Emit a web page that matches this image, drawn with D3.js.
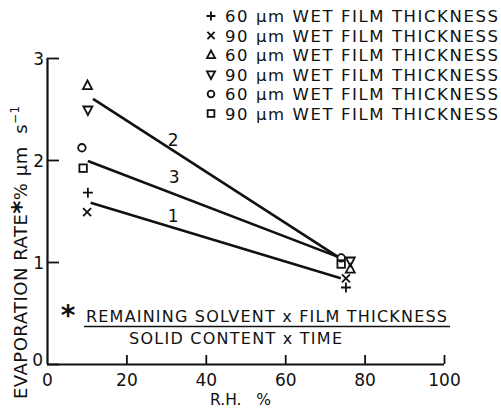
<!DOCTYPE html>
<html>
<head>
<meta charset="utf-8">
<script src="https://cdn.jsdelivr.net/npm/d3@7"></script>
<style>
  body { margin: 0; background: #fff; }
  svg text { font-family: "DejaVu Sans", sans-serif; fill: #111; }
</style>
</head>
<body>
<div id="chart"></div>
<script>
const WIDTH = 501;
const HEIGHT = 409;

// relative humidity (%) and evaporation rate (% um/s)
const seriesNames = [
  '60 μm WET FILM THICKNESS',
  '90 μm WET FILM THICKNESS',
  '60 μm WET FILM THICKNESS',
  '90 μm WET FILM THICKNESS',
  '60 μm WET FILM THICKNESS',
  '90 μm WET FILM THICKNESS',
];
const seriesSymbols = ['plus', 'cross', 'triUp', 'triDown', 'circle', 'square'];
const seriesRH = [
  [10.3, 75.3],
  [10.1, 75.3],
  [10.2, 76.4],
  [10.3, 76.4],
  [8.8, 74.1],
  [9.1, 74.1],
];
const seriesRate = [
  [1.68, 0.75],
  [1.49, 0.84],
  [2.73, 0.93],
  [2.49, 1.01],
  [2.12, 1.04],
  [1.92, 0.98],
];

// fitted lines, numbered as on the plot
const lineLabels = ['1', '2', '3'];
const lineRH = [[11.0, 74.0], [11.6, 73.3], [10.3, 73.3]];
const lineRate = [[1.58, 0.84], [2.6, 1.05], [1.99, 1.05]];

const xTicks = [0, 20, 40, 60, 80, 100];
const yTicks = [0, 1, 2, 3];

const x = d3.scaleLinear().domain([0, 100]).range([47, 444]);
const y = d3.scaleLinear().domain([0, 3]).range([364, 58]);

const svg = d3.select('#chart')
  .append('svg')
  .attr('width', WIDTH)
  .attr('height', HEIGHT);

// axes
const xAxis = d3.axisBottom(x).tickValues(xTicks).tickSize(-9).tickPadding(8).tickFormat(d3.format('d'));
const yAxis = d3.axisLeft(y).tickValues(yTicks).tickSize(-12).tickPadding(3).tickFormat(d3.format('d'));

const gx = svg.append('g').attr('transform', `translate(0,${y(0)})`).call(xAxis);
const gy = svg.append('g').attr('transform', `translate(${x(0)},0)`).call(yAxis);

[gx, gy].forEach(g => {
  g.select('.domain').attr('stroke', '#111').attr('stroke-width', 2.2);
  g.selectAll('.tick line').attr('stroke', '#111').attr('stroke-width', 1.8);
  g.selectAll('.tick text')
    .attr('font-family', '"DejaVu Sans", sans-serif')
    .attr('font-size', 17)
    .attr('fill', '#111');
});
gx.select('.domain').attr('d', `M${x(0)},0.5H${x(100)}`);
gy.select('.domain').attr('d', `M0.5,${y(0)}V${y(3)}`);
gy.selectAll('.tick text').attr('dy', '0.4em');
gy.selectAll('.tick').filter(d => d === 0).select('text').attr('x', -4).attr('dy', '0.1em');
gx.selectAll('.tick').filter(d => d === 0).select('line').remove();
gx.selectAll('.tick text').attr('dy', '0.85em');

// axis titles
svg.append('text')
  .attr('transform', `translate(27,399) rotate(-90)`)
  .attr('font-size', 18)
  .attr('letter-spacing', 0.5)
  .call(t => {
    t.append('tspan').text('EVAPORATION RATE');
    t.append('tspan').attr('font-size', 25).attr('font-weight', 'bold').attr('dy', 2).text('*');
    t.append('tspan').attr('dy', -2).attr('xml:space', 'preserve').text('% μm  s');
    t.append('tspan').attr('font-size', 12).attr('dy', -8).text('−1');
  });

svg.append('text')
  .attr('x', 210).attr('y', 405)
  .attr('font-size', 15.5)
  .attr('xml:space', 'preserve')
  .text('R.H.   %');

// fitted lines
const lineGen = d3.line().x(d => x(d[0])).y(d => y(d[1]));
lineLabels.forEach((label, i) => {
  const pts = lineRH[i].map((rh, j) => [rh, lineRate[i][j]]);
  svg.append('path')
    .attr('d', lineGen(pts))
    .attr('fill', 'none')
    .attr('stroke', '#111')
    .attr('stroke-width', 2.6);
});
const labelPos = [[31.8, 1.39], [31.8, 2.14], [32, 1.77]];
lineLabels.forEach((label, i) => {
  svg.append('text')
    .attr('x', x(labelPos[i][0]))
    .attr('y', y(labelPos[i][1]))
    .attr('font-size', 17)
    .attr('text-anchor', 'middle')
    .text(label);
});

// marker shapes
function drawSymbol(g, type, cx, cy, s) {
  const stroke = { fill: 'none', stroke: '#111', 'stroke-width': 1.8 };
  let el;
  if (type === 'plus') {
    el = g.append('path').attr('d', `M${cx - s},${cy}H${cx + s}M${cx},${cy - s}V${cy + s}`);
  } else if (type === 'cross') {
    const k = s * 0.8;
    el = g.append('path').attr('d', `M${cx - k},${cy - k}L${cx + k},${cy + k}M${cx - k},${cy + k}L${cx + k},${cy - k}`);
  } else if (type === 'triUp') {
    el = g.append('path').attr('d', `M${cx},${cy - s}L${cx + s * 0.9},${cy + s * 0.7}L${cx - s * 0.9},${cy + s * 0.7}Z`);
  } else if (type === 'triDown') {
    el = g.append('path').attr('d', `M${cx},${cy + s}L${cx + s * 0.9},${cy - s * 0.7}L${cx - s * 0.9},${cy - s * 0.7}Z`);
  } else if (type === 'circle') {
    el = g.append('circle').attr('cx', cx).attr('cy', cy).attr('r', s * 0.75);
  } else {
    el = g.append('rect').attr('x', cx - s * 0.75).attr('y', cy - s * 0.75).attr('width', s * 1.5).attr('height', s * 1.5);
  }
  Object.entries(stroke).forEach(([k, v]) => el.attr(k, v));
}

const marks = svg.append('g');
seriesSymbols.forEach((sym, i) => {
  seriesRH[i].forEach((rh, j) => {
    drawSymbol(marks, sym, x(rh), y(seriesRate[i][j]), 5);
  });
});

// legend
const legend = svg.append('g');
seriesNames.forEach((name, i) => {
  const ly = 16 + i * 19.5;
  drawSymbol(legend, seriesSymbols[i], 211, ly, 4.5);
  legend.append('text')
    .attr('x', 225)
    .attr('y', ly + 6)
    .attr('font-size', 16.5)
    .attr('textLength', 273)
    .attr('lengthAdjust', 'spacing')
    .text(name);
});

// footnote
svg.append('text')
  .attr('x', 68).attr('y', 325)
  .attr('font-size', 28)
  .attr('font-weight', 'bold')
  .attr('text-anchor', 'middle')
  .text('*');
svg.append('text')
  .attr('x', 86).attr('y', 322)
  .attr('font-size', 16)
  .attr('textLength', 361)
  .attr('lengthAdjust', 'spacing')
  .text('REMAINING SOLVENT x FILM THICKNESS');
svg.append('line')
  .attr('x1', 84).attr('x2', 450)
  .attr('y1', 326.5).attr('y2', 326.5)
  .attr('stroke', '#111').attr('stroke-width', 1.5);
svg.append('text')
  .attr('x', 129).attr('y', 344)
  .attr('font-size', 16)
  .attr('textLength', 213)
  .attr('lengthAdjust', 'spacing')
  .text('SOLID CONTENT x TIME');
</script>
</body>
</html>
